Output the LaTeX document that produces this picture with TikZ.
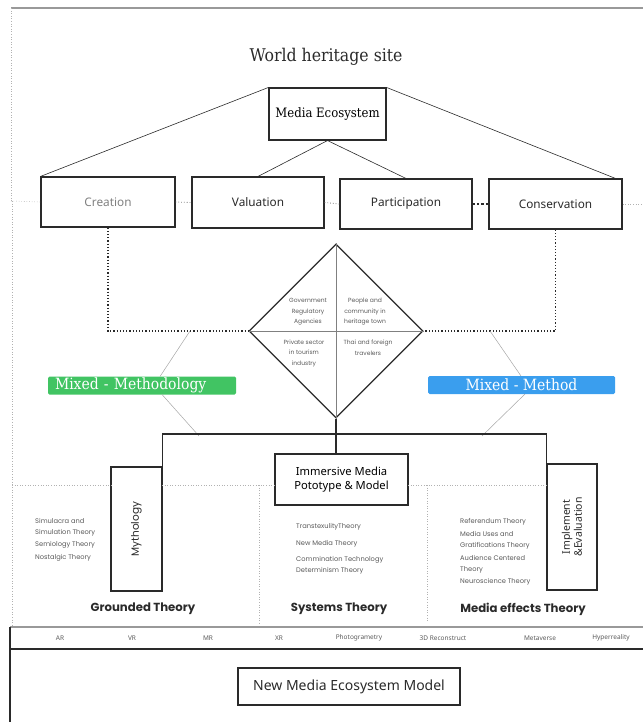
\documentclass[tikz,border=0pt]{standalone}
\usepackage{fontspec}
\setmainfont{Noto Sans}
\newfontfamily\slab{DejaVu Serif Condensed}
\newfontfamily\geo{Poppins}
\usetikzlibrary{shapes.geometric,calc}
\definecolor{mgreen}{HTML}{41C463}
\definecolor{mblue}{HTML}{3A9EEE}
\definecolor{ink}{HTML}{2A2A2A}
\definecolor{soft}{HTML}{5A5A5A}
\tikzset{
  box/.style={draw=ink, line width=1.1pt, rectangle, inner sep=0pt, align=center},
  stage/.style={box, font=\fontsize{11.8}{13}\selectfont, text=ink},
  fine/.style={draw=gray!70, line width=0.5pt},
  faint/.style={draw=gray!60, line width=0.6pt, dotted},
  bolddots/.style={draw=ink, line width=1.2pt, dotted},
  listtxt/.style={font=\geo\fontsize{6.7}{11}\selectfont, text=soft, align=left, anchor=north west, inner sep=0pt},
  quad/.style={font=\geo\fontsize{6}{10.5}\selectfont, text=soft, align=center, inner sep=0pt},
  head/.style={font=\geo\bfseries\fontsize{11.7}{13}\selectfont, text=ink},
  tag/.style={rectangle, rounded corners=1.5pt, inner sep=0pt, text=white, font=\slab\fontsize{15.5}{16}\selectfont},
  tech/.style={font=\fontsize{6.5}{8}\selectfont, text=soft},
}
\begin{document}
\begin{tikzpicture}[x=1pt,y=-1pt]
\useasboundingbox (0,0) rectangle (643,722);

% outer frame
\draw[draw=gray!80, line width=1.3pt] (11,8) -- (643,8);
\draw[faint] (11,8) -- (11,201);

% title and top level
\node[font=\slab\fontsize{17.5}{19}\selectfont, text=ink] (title) at (326,57) {World heritage site};
\node[box, minimum width=117, minimum height=52, font=\slab\fontsize{13}{14}\selectfont] (me) at (327.5,114) {Media Ecosystem};

\node[stage, minimum width=134, minimum height=50, text=gray] (cr) at (108,202) {Creation};
\node[stage, minimum width=132, minimum height=51] (va) at (258,202.5) {Valuation};
\node[stage, minimum width=132, minimum height=50] (pa) at (406,204) {Participation};
\node[stage, minimum width=133, minimum height=50] (co) at (555.5,204) {Conservation};

\draw[faint] (11,201) -- (cr.west);
\draw[faint] (co.east) -- (643,204);
\draw[faint] (12,201) -- (12,627);

\draw[draw=ink, line width=0.6pt] (me.north west) -- (cr.north west);
\draw[draw=ink, line width=0.6pt] (me.north east) -- ($(co.north east)+(-7,0)$);
\draw[draw=ink, line width=0.6pt] (me.south) -- (va.north);
\draw[draw=ink, line width=0.6pt] (me.south) -- (pa.north);

\draw[draw=gray, line width=0.8pt, dotted] (cr.east) -- (va.west);
\draw[draw=gray, line width=0.8pt, dotted] (va.east) -- (pa.west);
\draw[draw=ink, line width=2.2pt, dash pattern=on 2.2pt off 2.2pt] (pa.east) -- (co.west);

% stakeholder diamond
\node[diamond, draw=ink, line width=1.2pt, minimum width=174, minimum height=174, inner sep=0pt] (d) at (336,331) {};
\draw[draw=gray, line width=0.7pt] (d.north) -- (d.south);
\draw[draw=gray, line width=0.7pt] (d.west) -- (d.east);
\node[quad] (q1) at (308,312) {Government\\Regulatory\\Agencies};
\node[quad] (q2) at (365,312) {People and\\community in\\heritage town};
\node[quad] (q3) at (304,353) {Private sector\\in tourism\\industry};
\node[quad] (q4) at (368,347.5) {Thai and foreign\\travelers};

\draw[bolddots] (cr.south) |- (d.west);
\draw[bolddots] (co.south) |- (d.east);

% methodology tags
\node[tag, fill=mgreen, minimum width=188, minimum height=18, text width=174, align=left] (mm) at (142,385.5) {Mixed - Methodology};
\node[tag, fill=mblue, minimum width=187, minimum height=18] (mx) at (521.5,385) {Mixed - Method};

\coordinate (la) at (190,331);
\coordinate (lb) at (160,376.5);
\coordinate (lc) at (162,394.5);
\coordinate (ld) at (199,436);
\coordinate (ra) at (490,331);
\coordinate (rb) at (521,376);
\coordinate (rc) at (525,394);
\coordinate (rd) at (482,436);
\draw[fine] (la) -- (lb);
\draw[fine] (lc) -- (ld);
\draw[fine] (ra) -- (rb);
\draw[fine] (rc) -- (rd);

% lower branch
\node[box, minimum width=51, minimum height=124] (my) at (136.5,529) {};
\node[rotate=90, font=\geo\fontsize{10.5}{12}\selectfont, text=ink] (myt) at (my.center) {Mythology};
\node[box, minimum width=133, minimum height=51, font=\fontsize{11.2}{13.5}\selectfont] (im) at (341.5,479.5) {Immersive Media\\Pototype \& Model};
\node[box, minimum width=50, minimum height=126] (ie) at (572,527) {};
\node[rotate=90, align=center, font=\fontsize{10.5}{12}\selectfont, text=ink] (iet) at (ie.center) {Implement\\\&Evaluation};

\coordinate (bk) at (336,434);
\draw[draw=ink, line width=1.1pt] (d.south) -- (d.south |- im.north);
\draw[draw=ink, line width=1.1pt] (my.north east) |- (bk) -| (ie.north west);

% theory columns
\coordinate (g0) at (12,485);
\coordinate (g1) at (111,485);
\coordinate (g2) at (162,485);
\coordinate (g3) at (275,485);
\coordinate (g4) at (408,485);
\coordinate (g5) at (547,485);
\coordinate (v1) at (259,485);
\coordinate (v1b) at (259,623);
\coordinate (v2) at (427,485);
\coordinate (v2b) at (427,622);
\draw[faint] (g0) -- (g1);
\draw[faint] (g2) -- (g3);
\draw[faint] (g4) -- (g5);
\draw[faint] (v1) -- (v1b);
\draw[faint] (v2) -- (v2b);

\node[listtxt] (t1) at (35,518) {Simulacra and\\Simulation Theory\\[1.5pt]Semiology Theory\\[1.5pt]Nostalgic Theory};
\node[listtxt] (t2) at (296,523) {TranstexulityTheory\\[6pt]New Media Theory\\[5pt]Commination Technology\\Determinism Theory};
\node[listtxt] (t3) at (460,518) {Referendum Theory\\[2pt]Media Uses and\\Gratifications Theory\\[2pt]Audience Centered\\Theory\\[1pt]Neuroscience Theory};

\node[head] (h1) at (143,608.5) {Grounded Theory};
\node[head] (h2) at (339,608.5) {Systems Theory};
\node[head] (h3) at (523,609) {Media effects Theory};

% technology strip
\draw[draw=gray!80, line width=1.3pt] (10,627) -- (643,627);
\draw[draw=ink, line width=1.4pt] (10,649) -- (643,649);
\draw[draw=ink, line width=1.1pt] (10,627) -- (10,722);
\node[tech] (k1) at (60,638) {AR};
\node[tech] (k2) at (132,638) {VR};
\node[tech] (k3) at (208,638) {MR};
\node[tech] (k4) at (279,638) {XR};
\node[tech] (k5) at (359,638) {Photogrametry};
\node[tech] (k6) at (443,638) {3D Reconstruct};
\node[tech] (k7) at (540,638) {Metaverse};
\node[tech] (k8) at (611,638) {Hyperreality};

\node[box, minimum width=222, minimum height=37, font=\fontsize{14}{16}\selectfont, text=ink] (nm) at (349,686.5) {New Media Ecosystem Model};
\end{tikzpicture}
\end{document}
